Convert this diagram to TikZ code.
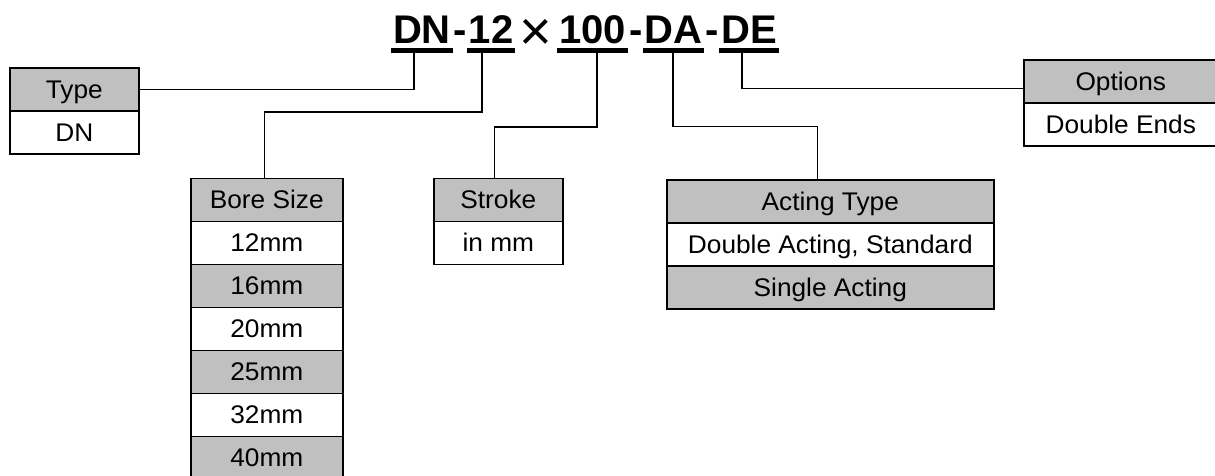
\documentclass[tikz,border=0pt]{standalone}
\usepackage{fontspec}
\usepackage{graphicx}
\setmainfont{Liberation Sans}
\definecolor{gbg}{RGB}{192,192,192}
\newcommand\sx[1]{\scalebox{1.03}[1]{#1}}
\newcommand\cellfont{\fontsize{25.5}{28}\selectfont}
\newcommand\titlefont{\bfseries\fontsize{40}{44}\selectfont}
\begin{document}
\begin{tikzpicture}[x=1pt,y=-1pt,
  cell/.style={draw,line width=1.6pt,minimum height=43pt,inner sep=0pt,anchor=north west,font=\cellfont,text height=18.3pt,text depth=0pt},
  hd/.style={cell,fill=gbg},
  wt/.style={cell,fill=white},
  conn/.style={line width=1.3pt},
  ul/.style={line width=5pt},
  ttl/.style={font=\titlefont,inner sep=0pt,anchor=base}]
\useasboundingbox (0,0) rectangle (1215,475);

% title
\node[ttl] (tdn) at (422,43) {DN};
\node[ttl] (th1) at (460,43) {-};
\node[ttl] (t12) at (491,43) {12};
\node[ttl,font=\fontsize{56}{56}\selectfont] (tx) at (536,50) {×};
\node[ttl] (t100) at (592.5,43) {100};
\node[ttl] (th2) at (636,43) {-};
\node[ttl] (tda) at (673.5,43) {DA};
\node[ttl] (th3) at (712,43) {-};
\node[ttl] (tde) at (749,43) {DE};
\draw[ul] (391,50) -- (453,50);
\draw[ul] (467,50) -- (515,50);
\draw[ul] (557,50) -- (628,50);
\draw[ul] (643,50) -- (704,50);
\draw[ul] (719,50) -- (779,50);
\coordinate (udn) at (414,50);
\coordinate (u12) at (482,50);
\coordinate (u100) at (597,50);
\coordinate (uda) at (673,50);
\coordinate (ude) at (742,50);

% Type
\node[hd,minimum width=129pt] (typeh) at (9,67) {\sx{Type}};
\node[wt,minimum width=129pt] (typev) at (9,110) {\sx{DN}};

% Options
\node[hd,minimum width=194pt] (opth) at (1023,59) {\sx{Options}};
\node[wt,minimum width=194pt] (optv) at (1023,102) {\sx{Double Ends}};

% Bore size
\node[hd,minimum width=152pt] (boreh) at (190,177.5) {\sx{Bore Size}};
\node[wt,minimum width=152pt] (b1) at (190,220.5) {\sx{12mm}};
\node[hd,minimum width=152pt] (b2) at (190,263.5) {\sx{16mm}};
\node[wt,minimum width=152pt] (b3) at (190,306.5) {\sx{20mm}};
\node[hd,minimum width=152pt] (b4) at (190,349.5) {\sx{25mm}};
\node[wt,minimum width=152pt] (b5) at (190,392.5) {\sx{32mm}};
\node[hd,minimum width=152pt] (b6) at (190,435.5) {\sx{40mm}};

% Stroke
\node[hd,minimum width=129pt] (strh) at (433,177.5) {\sx{Stroke}};
\node[wt,minimum width=129pt] (strv) at (433,220.5) {\sx{in mm}};

% Acting type
\node[hd,minimum width=327pt] (acth) at (666,179) {\sx{Acting Type}};
\node[wt,minimum width=327pt] (act1) at (666,222) {\sx{Double Acting, Standard}};
\node[hd,minimum width=327pt] (act2) at (666,265) {\sx{Single Acting}};

% connectors
\draw[conn] (udn) |- (typeh.east);
\draw[conn] (u12) -- (482,112) -| ([xshift=-2pt]boreh.north);
\draw[conn] (u100) -- (597,127) -| ([xshift=-3.5pt]strh.north);
\draw[conn] (uda) -- (673,126.5) -| ([xshift=-12.5pt]acth.north);
\draw[conn] (ude) |- ([yshift=-7.5pt]opth.west);
\end{tikzpicture}
\end{document}
